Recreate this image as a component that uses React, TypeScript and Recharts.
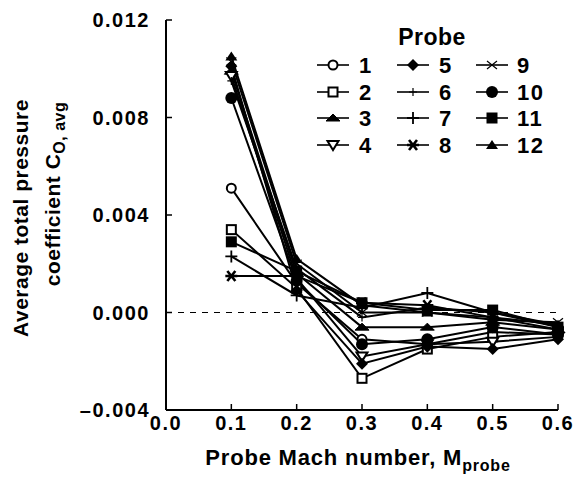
import React from "react";
import { Legend, Line, LineChart, ReferenceLine, XAxis, YAxis } from "recharts";

const MACH = [0.1, 0.2, 0.3, 0.4, 0.5, 0.6];
const PROBE_1 = [0.0051, 0.0012, -0.0011, -0.0013, -0.0008, -0.0009];
const PROBE_2 = [0.0034, 0.001, -0.0027, -0.0015, -0.001, -0.0008];
const PROBE_3 = [0.0099, 0.0016, -0.0006, -0.0006, -0.0004, -0.0007];
const PROBE_4 = [0.0097, 0.0014, -0.0018, -0.0013, -0.0012, -0.001];
const PROBE_5 = [0.0101, 0.0009, -0.0021, -0.0014, -0.0015, -0.0011];
const PROBE_6 = [0.0095, 0.0018, -0.0002, 0.0002, 0.0, -0.0005];
const PROBE_7 = [0.0023, 0.0007, 0.0002, 0.0008, 0.0, -0.0006];
const PROBE_8 = [0.0015, 0.0015, 0.0004, 0.0003, -0.0002, -0.0007];
const PROBE_9 = [0.0103, 0.002, 0.0, 0.0, -0.0003, -0.0004];
const PROBE_10 = [0.0088, 0.0013, -0.0013, -0.0011, -0.0006, -0.0009];
const PROBE_11 = [0.0029, 0.0017, 0.0004, 0.0001, 0.0001, -0.0006];
const PROBE_12 = [0.0105, 0.0022, 0.0003, 0.0, -0.0002, -0.0005];

const X_TICKS = [0, 0.1, 0.2, 0.3, 0.4, 0.5, 0.6];
const Y_TICKS = [-0.004, 0, 0.004, 0.008, 0.012];

type MarkerKind =
  | "openCircle"
  | "openSquare"
  | "flatTriangle"
  | "downTriangle"
  | "diamond"
  | "smallPlus"
  | "plus"
  | "star"
  | "cross"
  | "dot"
  | "square"
  | "triangle";

const PROBES: { id: number; values: number[]; marker: MarkerKind }[] = [
  { id: 1, values: PROBE_1, marker: "openCircle" },
  { id: 2, values: PROBE_2, marker: "openSquare" },
  { id: 3, values: PROBE_3, marker: "flatTriangle" },
  { id: 4, values: PROBE_4, marker: "downTriangle" },
  { id: 5, values: PROBE_5, marker: "diamond" },
  { id: 6, values: PROBE_6, marker: "smallPlus" },
  { id: 7, values: PROBE_7, marker: "plus" },
  { id: 8, values: PROBE_8, marker: "star" },
  { id: 9, values: PROBE_9, marker: "cross" },
  { id: 10, values: PROBE_10, marker: "dot" },
  { id: 11, values: PROBE_11, marker: "square" },
  { id: 12, values: PROBE_12, marker: "triangle" },
];

const FONT = "'Liberation Sans', Arial, Helvetica, sans-serif";
const INK = "#000";

const data = MACH.map((m, i) => {
  const row: Record<string, number> = { mach: m };
  for (const p of PROBES) row[`p${p.id}`] = p.values[i];
  return row;
});

function Marker({ kind, cx, cy }: { kind: MarkerKind; cx: number; cy: number }) {
  const s = { stroke: INK, strokeWidth: 2 };
  switch (kind) {
    case "openCircle":
      return <circle cx={cx} cy={cy} r={4.5} fill="#fff" {...s} />;
    case "openSquare":
      return <rect x={cx - 4.5} y={cy - 4.5} width={9} height={9} fill="#fff" {...s} />;
    case "flatTriangle":
      return <path d={`M${cx - 7},${cy + 3} L${cx},${cy - 4} L${cx + 7},${cy + 3} Z`} fill={INK} {...s} strokeWidth={1} />;
    case "downTriangle":
      return <path d={`M${cx - 5.5},${cy - 4} L${cx + 5.5},${cy - 4} L${cx},${cy + 5} Z`} fill="#fff" {...s} />;
    case "diamond":
      return <path d={`M${cx},${cy - 6} L${cx + 6},${cy} L${cx},${cy + 6} L${cx - 6},${cy} Z`} fill={INK} />;
    case "smallPlus":
      return (
        <path d={`M${cx - 4},${cy} H${cx + 4} M${cx},${cy - 4} V${cy + 4}`} stroke={INK} strokeWidth={1.2} fill="none" />
      );
    case "plus":
      return (
        <path d={`M${cx - 6},${cy} H${cx + 6} M${cx},${cy - 6} V${cy + 6}`} stroke={INK} strokeWidth={1.8} fill="none" />
      );
    case "star":
      return (
        <path
          d={`M${cx - 6},${cy} H${cx + 6} M${cx - 4},${cy - 5} L${cx + 4},${cy + 5} M${cx + 4},${cy - 5} L${cx - 4},${cy + 5}`}
          stroke={INK}
          strokeWidth={2.6}
          fill="none"
        />
      );
    case "cross":
      return (
        <path
          d={`M${cx - 5},${cy - 4} L${cx + 5},${cy + 4} M${cx + 5},${cy - 4} L${cx - 5},${cy + 4}`}
          stroke={INK}
          strokeWidth={1.2}
          fill="none"
        />
      );
    case "dot":
      return <circle cx={cx} cy={cy} r={6} fill={INK} />;
    case "square":
      return <rect x={cx - 5.5} y={cy - 5.5} width={11} height={11} fill={INK} />;
    case "triangle":
      return <path d={`M${cx - 6},${cy + 4} L${cx},${cy - 5} L${cx + 6},${cy + 4} Z`} fill={INK} />;
  }
}

function ProbeLegend() {
  const colX = [33, 113, 192];
  const labelX = [59, 139, 217];
  const rowY = [45, 72, 98, 125];
  return (
    <svg width={270} height={140} style={{ overflow: "visible" }}>
      <text
        x={132}
        y={25}
        textAnchor="middle"
        fontFamily={FONT}
        fontSize={23}
        fontWeight="bold"
        letterSpacing={0.5}
        fill={INK}
      >
        Probe
      </text>
      {PROBES.map((p, i) => {
        const col = Math.floor(i / 4);
        const row = i % 4;
        const cx = colX[col];
        const cy = rowY[row];
        return (
          <g key={p.id}>
            <line x1={cx - 16} x2={cx + 16} y1={cy} y2={cy} stroke={INK} strokeWidth={1.6} />
            <Marker kind={p.marker} cx={cx} cy={cy} />
            <text
              x={labelX[col]}
              y={cy + 8}
              fontFamily={FONT}
              fontSize={22}
              fontWeight="bold"
              letterSpacing={1.5}
              fill={INK}
            >
              {p.id}
            </text>
          </g>
        );
      })}
    </svg>
  );
}

const fmtY = (v: number) => (v < 0 ? `\u2013${Math.abs(v).toFixed(3)}` : v.toFixed(3));

const tickStyle = { fontSize: 20, fontFamily: FONT, fontWeight: "bold", fill: INK, letterSpacing: 1.5 };

export default function App() {
  return (
    <div style={{ position: "absolute", left: 0, top: 0, background: "#fff" }}>
      <LineChart width={579} height={487} data={data} margin={{ top: 20, right: 21, bottom: 0, left: 0 }}>
        <XAxis
          type="number"
          dataKey="mach"
          domain={[0, 0.6]}
          ticks={X_TICKS}
          tickFormatter={(v) => Number(v).toFixed(1)}
          height={77}
          axisLine={{ stroke: INK, strokeWidth: 2 }}
          tickLine={{ stroke: INK, strokeWidth: 1.5 }}
          tickSize={-6}
          tickMargin={12}
          tick={tickStyle}
          label={{
            content: () => (
              <text
                x={358}
                y={465}
                textAnchor="middle"
                fontFamily={FONT}
                fontSize={22}
                fontWeight="bold"
                letterSpacing={0.8}
                fill={INK}
              >
                Probe Mach number, M
                <tspan fontSize={16} dy={6}>
                  probe
                </tspan>
              </text>
            ),
          }}
        />
        <YAxis
          type="number"
          domain={[-0.004, 0.012]}
          ticks={Y_TICKS}
          tickFormatter={fmtY}
          width={166}
          axisLine={{ stroke: INK, strokeWidth: 2 }}
          tickLine={{ stroke: INK, strokeWidth: 1.5 }}
          tickSize={-6}
          tickMargin={22}
          tick={tickStyle}
          label={{
            content: () => (
              <g fontFamily={FONT} fontSize={21} fontWeight="bold" fill={INK} letterSpacing={0.5}>
                <text x={0} y={0} transform="translate(28,218) rotate(-90)" textAnchor="middle">
                  Average total pressure
                </text>
                <text x={0} y={0} transform="translate(60,194) rotate(-90)" textAnchor="middle">
                  coefficient C
                  <tspan fontSize={16} dy={5}>
                    O, avg
                  </tspan>
                </text>
              </g>
            ),
          }}
        />
        <ReferenceLine y={0} stroke={INK} strokeWidth={1} strokeDasharray="6 6" />
        <Legend
          align="center"
          verticalAlign="middle"
          layout="horizontal"
          wrapperStyle={{ left: 300, top: 20, width: 270 }}
          content={() => <ProbeLegend />}
        />
        {PROBES.map((p) => (
          <Line
            key={p.id}
            dataKey={`p${p.id}`}
            type="linear"
            stroke={INK}
            strokeWidth={2}
            isAnimationActive={false}
            dot={(props: any) => (
              <Marker key={`${p.id}-${props.index}`} kind={p.marker} cx={props.cx} cy={props.cy} />
            )}
            activeDot={false}
          />
        ))}
      </LineChart>
    </div>
  );
}
